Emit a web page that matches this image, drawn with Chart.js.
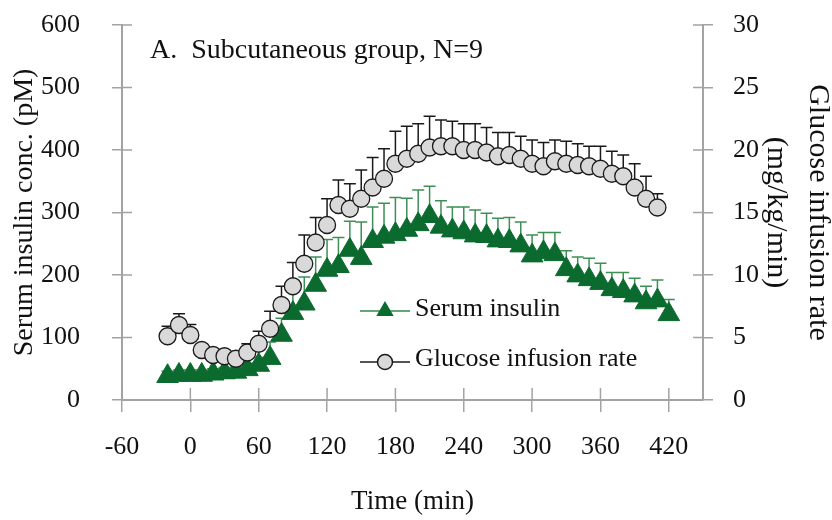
<!DOCTYPE html>
<html>
<head>
<meta charset="utf-8">
<title>Subcutaneous group</title>
<script src="https://cdn.jsdelivr.net/npm/chart.js@4.4.1/dist/chart.umd.min.js"></script>
<style>
  html, body { margin: 0; padding: 0; background: #fff; }
  #wrap { width: 832px; height: 520px; }
</style>
</head>
<body>
<div id="wrap"><canvas id="myChart" width="832" height="520"></canvas></div>
<script>
// ============== data ==============
const times = [-20, -10, 0, 10, 20, 30, 40, 50, 60, 70, 80, 90, 100, 110, 120, 130, 140, 150,
  160, 170, 180, 190, 200, 210, 220, 230, 240, 250, 260, 270, 280, 290, 300, 310, 320, 330,
  340, 350, 360, 370, 380, 390, 400, 410, 420];

// serum insulin, pM (left axis)
const insulin = [38, 40, 40, 40, 42, 44, 45, 49, 56, 67, 104, 139, 154, 184, 208, 214, 240, 227,
  254, 261, 265, 272, 281, 294, 277, 271, 268, 263, 262, 255, 254, 247, 231, 236, 233, 209,
  199, 193, 187, 177, 174, 167, 156, 159, 137];
const insulinErr = [8, 8, 8, 8, 8, 8, 8, 10, 12, 26, 27, 36, 43, 45, 49, 46, 46, 58,
  55, 54, 59, 51, 55, 48, 42, 38, 41, 41, 37, 36, 38, 38, 33, 32, 35, 30,
  30, 34, 32, 27, 30, 28, 26, 33, 24];

// glucose infusion rate, mg/kg/min (right axis)
const gir = [5.1, 6.0, 5.2, 4.0, 3.6, 3.5, 3.3, 3.8, 4.5, 5.7, 7.6, 9.1, 10.9, 12.6, 14.0, 15.6, 15.3, 16.1,
  17.0, 17.7, 18.9, 19.3, 19.7, 20.2, 20.3, 20.3, 20.0, 20.0, 19.8, 19.5, 19.6, 19.3, 18.9, 18.7, 19.1, 18.9,
  18.8, 18.7, 18.5, 18.1, 17.9, 17.0, 16.1, 15.4, null];
const girErr = [0.8, 0.9, 0.85, 0.4, 0.4, 0.4, 0.4, 0.7, 1.0, 1.4, 1.5, 1.9, 2.3, 2.0, 2.1, 2.0, 2.0, 2.3,
  2.4, 2.4, 2.6, 2.6, 2.4, 2.5, 2.1, 2.0, 2.1, 2.1, 2.0, 1.9, 1.8, 1.8, 1.9, 1.9, 1.7, 1.8,
  1.7, 1.6, 1.8, 1.8, 1.7, 1.9, 1.8, 1.1, null];

const xRange = [-60, 450];
const leftRange = [0, 600];
const rightRange = [0, 30];

const panelTitle = "A.  Subcutaneous group, N=9";
const legendLabels = ["Serum insulin", "Glucose infusion rate"];

// ============== style ==============
const FONT = '"Liberation Serif", "Times New Roman", serif';
const AXIS_COLOR = "#a3a3a3";
const TEXT_COLOR = "#111";
const GREEN = "#0b6a2e";
const GREEN_ERR = "#3d8f55";
const CIRCLE_FILL = "#d9d9d9";
const CIRCLE_EDGE = "#1a1a1a";

function toPoints(xs, ys) {
  return xs.map((x, i) => ({ x: x, y: ys[i] })).filter((p) => p.y !== null);
}

// upper error bars, drawn just before each dataset
const errorBars = {
  id: "errorBars",
  beforeDatasetDraw(chart, args) {
    const ds = chart.data.datasets[args.index];
    if (!ds.errors) return;
    const ctx = chart.ctx;
    const yScale = chart.scales[ds.yAxisID];
    ctx.save();
    ctx.strokeStyle = ds.errColor;
    ctx.lineWidth = 1.5;
    args.meta.data.forEach((pt, i) => {
      const v = ds.data[i].y;
      const e = ds.errors[i];
      if (v === null || e === null || e === undefined) return;
      const top = yScale.getPixelForValue(v + e);
      ctx.beginPath();
      ctx.moveTo(pt.x, pt.y);
      ctx.lineTo(pt.x, top);
      ctx.moveTo(pt.x - 6, top);
      ctx.lineTo(pt.x + 6, top);
      ctx.stroke();
    });
    ctx.restore();
  },
};

// ticks crossing the axes (inner half) + panel title + legend
const extras = {
  id: "extras",
  afterDraw(chart) {
    const ctx = chart.ctx;
    const { left, right, top, bottom } = chart.chartArea;
    const sx = chart.scales.x, sy = chart.scales.y, sy2 = chart.scales.y2;

    ctx.save();
    ctx.strokeStyle = AXIS_COLOR;
    ctx.lineWidth = 1.5;
    ctx.beginPath();
    sx.ticks.forEach((t) => {
      const px = sx.getPixelForValue(t.value);
      ctx.moveTo(px, bottom);
      ctx.lineTo(px, bottom - 12);
    });
    sy.ticks.forEach((t) => {
      const py = sy.getPixelForValue(t.value);
      ctx.moveTo(left, py);
      ctx.lineTo(left + 10, py);
    });
    sy2.ticks.forEach((t) => {
      const py = sy2.getPixelForValue(t.value);
      ctx.moveTo(right, py);
      ctx.lineTo(right - 10, py);
    });
    ctx.stroke();

    // panel title
    ctx.fillStyle = TEXT_COLOR;
    ctx.font = "28px " + FONT;
    ctx.textAlign = "left";
    ctx.textBaseline = "alphabetic";
    ctx.fillText(panelTitle, left + 28, top + 33);

    // legend
    const lx = left + 238, ly1 = top + 286, ly2 = top + 337;
    ctx.lineWidth = 1.5;
    ctx.strokeStyle = "#2e8b4a";
    ctx.beginPath();
    ctx.moveTo(lx, ly1);
    ctx.lineTo(lx + 50, ly1);
    ctx.stroke();
    const r = 10;
    ctx.fillStyle = GREEN;
    ctx.beginPath();
    ctx.moveTo(lx + 25, ly1 - r);
    ctx.lineTo(lx + 25 + r * 0.866, ly1 + r / 2);
    ctx.lineTo(lx + 25 - r * 0.866, ly1 + r / 2);
    ctx.closePath();
    ctx.fill();

    ctx.strokeStyle = CIRCLE_EDGE;
    ctx.beginPath();
    ctx.moveTo(lx, ly2);
    ctx.lineTo(lx + 50, ly2);
    ctx.stroke();
    ctx.beginPath();
    ctx.arc(lx + 25, ly2, 7.5, 0, Math.PI * 2);
    ctx.fillStyle = CIRCLE_FILL;
    ctx.fill();
    ctx.stroke();

    ctx.fillStyle = TEXT_COLOR;
    ctx.font = "26px " + FONT;
    ctx.textBaseline = "middle";
    ctx.fillText(legendLabels[0], lx + 55, ly1 - 2);
    ctx.fillText(legendLabels[1], lx + 55, ly2 - 3);
    ctx.restore();
  },
};

function axisBase(size) {
  return {
    grid: { display: true, drawOnChartArea: false, drawTicks: true, tickLength: size, color: AXIS_COLOR, lineWidth: 1.5 },
    border: { display: true, color: AXIS_COLOR, width: 2 },
  };
}

// fixed box for a vertical scale, no extra label padding on top/bottom
function fitVertical(width) {
  return (scale) => {
    scale.width = width;
    scale.paddingTop = 0;
    scale.paddingBottom = 0;
  };
}

const ctx = document.getElementById("myChart").getContext("2d");
const chart = new Chart(ctx, {
  type: "scatter",
  data: {
    datasets: [
      {
        label: legendLabels[1],
        data: toPoints(times, gir),
        errors: girErr.filter((e, i) => gir[i] !== null),
        errColor: CIRCLE_EDGE,
        yAxisID: "y2",
        pointStyle: "circle",
        pointRadius: 8.5,
        pointHoverRadius: 8.5,
        backgroundColor: CIRCLE_FILL,
        borderColor: CIRCLE_EDGE,
        borderWidth: 1.3,
        showLine: false,
      },
      {
        label: legendLabels[0],
        data: toPoints(times, insulin),
        errors: insulinErr,
        errColor: GREEN_ERR,
        yAxisID: "y",
        pointStyle: "triangle",
        pointRadius: 12.5,
        pointHoverRadius: 12.5,
        backgroundColor: GREEN,
        borderColor: GREEN,
        borderWidth: 1,
        showLine: false,
      },
    ],
  },
  options: {
    responsive: false,
    animation: false,
    events: [],
    layout: { padding: { top: 25, left: 0, right: 0, bottom: 0 } },
    plugins: { legend: { display: false }, tooltip: { enabled: false } },
    scales: {
      x: {
        type: "linear",
        min: xRange[0],
        max: xRange[1],
        ...axisBase(12),
        ticks: { stepSize: 60, includeBounds: false, color: TEXT_COLOR, font: { family: FONT, size: 26 }, padding: 20, maxRotation: 0 },
        title: { display: true, text: "Time (min)", color: TEXT_COLOR, font: { family: FONT, size: 27 }, padding: { top: 0, bottom: 2 } },
        afterFit: (scale) => { scale.height = 120; },
      },
      y: {
        type: "linear",
        position: "left",
        min: leftRange[0],
        max: leftRange[1],
        ...axisBase(10),
        ticks: { stepSize: 100, color: TEXT_COLOR, font: { family: FONT, size: 26 }, padding: 32 },
        title: { display: true, text: "Serum insulin conc. (pM)", color: TEXT_COLOR, font: { family: FONT, size: 28 }, padding: { top: 8, bottom: 0 } },
        afterFit: fitVertical(122),
      },
      y2: {
        type: "linear",
        position: "right",
        min: rightRange[0],
        max: rightRange[1],
        ...axisBase(10),
        ticks: { stepSize: 5, color: TEXT_COLOR, font: { family: FONT, size: 26 }, padding: 20 },
        title: { display: true, text: ["Glucose infusion rate", "(mg/kg/min)"], color: TEXT_COLOR, font: { family: FONT, size: 30, lineHeight: "42px" }, padding: { top: -7, bottom: 0 } },
        afterFit: fitVertical(129),
      },
    },
  },
  plugins: [errorBars, extras],
});
</script>
</body>
</html>
